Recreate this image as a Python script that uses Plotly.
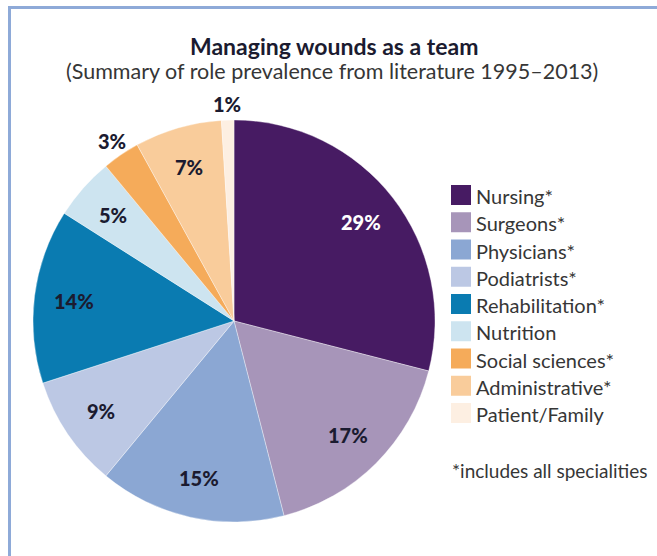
import math
import plotly.graph_objects as go

categories = ["Nursing*", "Surgeons*", "Physicians*", "Podiatrists*", "Rehabilitation*",
              "Nutrition", "Social sciences*", "Administrative*", "Patient/Family"]
values = [29, 17, 15, 9, 14, 5, 3, 7, 1]
colors = ["#471b63", "#a795b9", "#8ba7d3", "#bcc8e4", "#0a7bb1",
          "#cde4f0", "#f5ab5a", "#f9cc9b", "#fdefe2"]
label_inside = [True, True, True, True, True, True, False, True, False]
label_colors = ["#ffffff", "#1b1b30", "#1b1b30", "#1b1b30", "#1b1b30",
                "#1b1b30", "#1b1b30", "#1b1b30", "#1b1b30"]
footnote = "*includes all specialities"
title = "Managing wounds as a team"
subtitle = "(Summary of role prevalence from literature 1995–2013)"

W, H = 657, 556
FONT = "Lato"


def px(x):
    return x / W


def py(y):
    return 1 - y / H


cx, cy, r = 234, 321, 201

fig = go.Figure(go.Pie(
    labels=categories,
    values=values,
    sort=False,
    direction="clockwise",
    rotation=0,
    marker=dict(colors=colors, line=dict(color="rgba(255,255,255,0.6)", width=0.6)),
    textinfo="none",
    domain=dict(x=[px(cx - r), px(cx + r)], y=[py(cy + r), py(cy - r)]),
    hoverinfo="label+percent",
    showlegend=False,
))

annotations = []
shapes = []

# percentage labels, placed along each slice's bisector
total = sum(values)
cum = 0
for v, inside, col in zip(values, label_inside, label_colors):
    mid = (cum + v / 2) / total * 2 * math.pi
    cum += v
    f = 0.8 if inside else 1.08
    lx = cx + f * r * math.sin(mid)
    ly = cy - f * r * math.cos(mid)
    annotations.append(dict(
        text=f"{round(100 * v / total)}%", x=px(lx), y=py(ly),
        xref="paper", yref="paper", xanchor="center", yanchor="middle",
        showarrow=False,
        font=dict(family=FONT, size=20, color=col, weight=900),
    ))

# legend
leg_x0, leg_y0, leg_dy, sw = 451, 195, 27.25, 20
for i, (name, col) in enumerate(zip(categories, colors)):
    yc = leg_y0 + i * leg_dy
    shapes.append(dict(type="rect", xref="paper", yref="paper",
                       x0=px(leg_x0), x1=px(leg_x0 + sw),
                       y0=py(yc + sw / 2), y1=py(yc - sw / 2),
                       fillcolor=col, line=dict(width=0)))
    annotations.append(dict(
        text=name, x=px(leg_x0 + sw + 3), y=py(yc + 1),
        xref="paper", yref="paper", xanchor="left", yanchor="middle",
        showarrow=False, font=dict(family=FONT, size=20, color="#363636"),
    ))

annotations += [
    dict(text=f"<b>{title}</b>", x=px(334), y=py(46),
         xref="paper", yref="paper", xanchor="center", yanchor="middle", showarrow=False,
         font=dict(family=FONT, size=23, color="#1b1b30")),
    dict(text=subtitle, x=px(332), y=py(71),
         xref="paper", yref="paper", xanchor="center", yanchor="middle", showarrow=False,
         font=dict(family=FONT, size=21.5, color="#363636")),
    dict(text=footnote, x=px(450), y=py(470),
         xref="paper", yref="paper", xanchor="left", yanchor="middle", showarrow=False,
         font=dict(family=FONT, size=19, color="#363636")),
]

# frame lines (top and left)
frame_col = "#8eaad8"
shapes += [
    dict(type="line", xref="paper", yref="paper", x0=px(8), x1=1.0, y0=py(7.5), y1=py(7.5),
         line=dict(color=frame_col, width=3)),
    dict(type="line", xref="paper", yref="paper", x0=px(9.5), x1=px(9.5), y0=py(6), y1=0.0,
         line=dict(color=frame_col, width=3)),
]

fig.update_layout(
    width=W, height=H,
    margin=dict(l=0, r=0, t=0, b=0),
    paper_bgcolor="white",
    plot_bgcolor="white",
    font=dict(family=FONT, color="#2b2b2b"),
    showlegend=False,
    annotations=annotations,
    shapes=shapes,
)

# remove the default 8px page margin so the figure fills the window exactly
fig.write_html(
    "out.html",
    config=dict(displayModeBar=False),
    post_script="document.body.style.margin='0';document.body.style.overflow='hidden';",
)
